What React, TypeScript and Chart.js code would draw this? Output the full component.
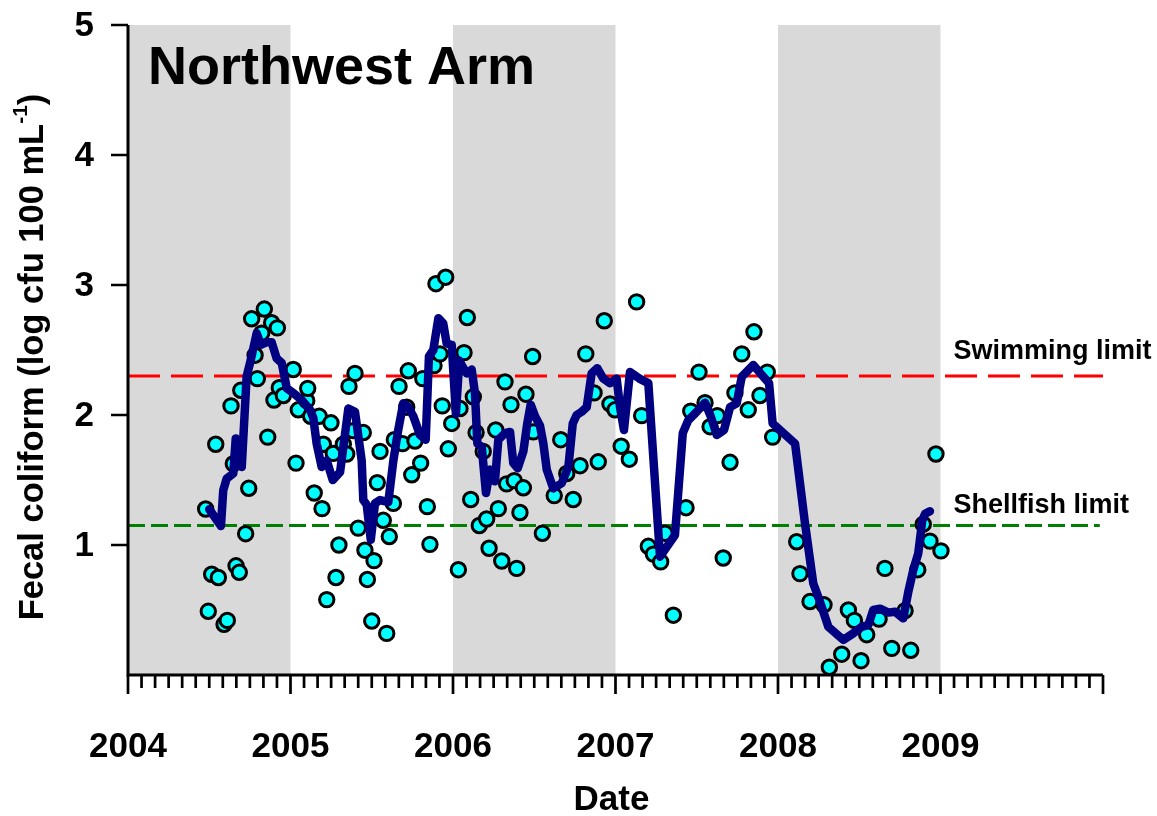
import React, { useEffect, useRef } from "react";
import { Chart, registerables } from "chart.js";

Chart.register(...registerables);

// ---- Data (decimal years, log10 cfu per 100 mL) ----
const sampleYears = [
  2004.478, 2004.494, 2004.515, 2004.540, 2004.556, 2004.591, 2004.611, 2004.634, 2004.648, 2004.665,
  2004.685, 2004.694, 2004.724, 2004.743, 2004.761, 2004.782, 2004.796, 2004.823, 2004.839, 2004.860,
  2004.884, 2004.898, 2004.919, 2004.931, 2004.956, 2005.017, 2005.034, 2005.048, 2005.100, 2005.106,
  2005.124, 2005.146, 2005.177, 2005.194, 2005.202, 2005.223, 2005.249, 2005.263, 2005.280, 2005.298,
  2005.325, 2005.346, 2005.360, 2005.386, 2005.397, 2005.417, 2005.448, 2005.458, 2005.473, 2005.500,
  2005.514, 2005.534, 2005.551, 2005.571, 2005.592, 2005.608, 2005.633, 2005.639, 2005.668, 2005.690,
  2005.715, 2005.725, 2005.746, 2005.766, 2005.801, 2005.814, 2005.842, 2005.858, 2005.883, 2005.895,
  2005.920, 2005.934, 2005.955, 2005.971, 2005.992, 2006.033, 2006.043, 2006.068, 2006.088, 2006.109,
  2006.125, 2006.142, 2006.162, 2006.186, 2006.207, 2006.222, 2006.263, 2006.279, 2006.300, 2006.320,
  2006.330, 2006.357, 2006.377, 2006.392, 2006.412, 2006.433, 2006.449, 2006.490, 2006.494, 2006.550,
  2006.623, 2006.663, 2006.700, 2006.740, 2006.782, 2006.817, 2006.868, 2006.894, 2006.931, 2006.966,
  2006.997, 2007.035, 2007.085, 2007.130, 2007.161, 2007.202, 2007.233, 2007.278, 2007.305, 2007.356,
  2007.434, 2007.463, 2007.514, 2007.551, 2007.582, 2007.626, 2007.663, 2007.705, 2007.735, 2007.777,
  2007.817, 2007.852, 2007.889, 2007.934, 2007.967, 2008.115, 2008.135, 2008.197, 2008.283, 2008.316,
  2008.392, 2008.433, 2008.470, 2008.511, 2008.546, 2008.622, 2008.658, 2008.700, 2008.782, 2008.817,
  2008.860, 2008.894, 2008.935, 2008.972, 2009.003,
];
const sampleLogFC = [
  1.277, 0.49, 0.775, 1.775, 0.75, 0.39, 0.42, 2.07, 1.625, 0.84,
  0.79, 2.19, 1.087, 1.436, 2.74, 2.46, 2.28, 2.63, 2.815, 1.83,
  2.71, 2.115, 2.67, 2.21, 2.15, 2.35, 1.63, 2.04, 2.11, 2.205,
  1.99, 1.40, 1.99, 1.28, 1.775, 0.58, 1.94, 1.705, 0.75, 1.00,
  1.775, 1.70, 2.22, 1.88, 2.32, 1.13, 1.865, 0.96, 0.735, 0.415,
  0.88, 1.48, 1.72, 1.19, 0.32, 1.065, 1.32, 1.81, 2.22, 1.78,
  2.06, 2.34, 1.54, 1.80, 1.63, 2.28, 1.295, 1.005, 2.38, 3.01,
  2.47, 2.07, 3.06, 1.74, 1.935, 0.81, 2.05, 2.48, 2.75, 1.35,
  2.14, 1.865, 1.15, 1.72, 1.20, 0.975, 1.885, 1.28, 0.877, 2.255,
  1.47, 2.08, 1.495, 0.82, 1.25, 1.44, 2.16, 2.45, 1.87, 1.09,
  1.38, 1.81, 1.55, 1.35, 1.61, 2.47, 2.17, 1.64, 2.725, 2.085,
  2.04, 1.76, 1.66, 2.87, 1.995, 0.99, 0.93, 0.87, 1.09, 0.46,
  1.287, 2.03, 2.33, 2.095, 1.91, 1.995, 0.90, 1.636, 2.17, 2.47,
  2.04, 2.64, 2.15, 2.33, 1.83, 1.025, 0.78, 0.565, 0.54, 0.06,
  0.16, 0.50, 0.42, 0.11, 0.31, 0.43, 0.82, 0.205, 0.495, 0.19,
  0.81, 1.16, 1.03, 1.70, 0.955,
];

const meanYears = [
  2004.500, 2004.572, 2004.586, 2004.607, 2004.648, 2004.663, 2004.679, 2004.700, 2004.730, 2004.755,
  2004.792, 2004.817, 2004.854, 2004.884, 2004.915, 2004.946, 2004.977, 2005.017, 2005.069, 2005.120,
  2005.140, 2005.161, 2005.192, 2005.223, 2005.260, 2005.305, 2005.356, 2005.397, 2005.438, 2005.448,
  2005.469, 2005.494, 2005.520, 2005.551, 2005.602, 2005.633, 2005.663, 2005.694, 2005.725, 2005.756,
  2005.797, 2005.832, 2005.852, 2005.879, 2005.910, 2005.940, 2005.961, 2005.992, 2006.018, 2006.039,
  2006.060, 2006.084, 2006.115, 2006.135, 2006.150, 2006.177, 2006.203, 2006.228, 2006.258, 2006.279,
  2006.320, 2006.351, 2006.371, 2006.398, 2006.433, 2006.457, 2006.478, 2006.505, 2006.535, 2006.556,
  2006.577, 2006.617, 2006.669, 2006.710, 2006.737, 2006.761, 2006.792, 2006.823, 2006.853, 2006.888,
  2006.925, 2006.966, 2007.007, 2007.028, 2007.052, 2007.089, 2007.147, 2007.202, 2007.274, 2007.366,
  2007.414, 2007.448, 2007.500, 2007.551, 2007.586, 2007.623, 2007.668, 2007.705, 2007.746, 2007.777,
  2007.848, 2007.910, 2007.945, 2007.967, 2008.105, 2008.166, 2008.197, 2008.217, 2008.258, 2008.310,
  2008.402, 2008.463, 2008.515, 2008.556, 2008.586, 2008.628, 2008.679, 2008.720, 2008.771, 2008.802,
  2008.833, 2008.863, 2008.888, 2008.905, 2008.935,
];
const meanLogFC = [
  1.275, 1.146, 1.42, 1.51, 1.55, 1.82, 1.63, 1.60, 2.295, 2.42,
  2.63, 2.54, 2.56, 2.56, 2.435, 2.40, 2.205, 2.17, 2.115, 2.04,
  1.98, 1.78, 1.60, 1.65, 1.50, 1.56, 2.05, 2.025, 1.65, 1.346,
  1.31, 1.04, 1.32, 1.346, 1.33, 1.65, 1.885, 2.09, 2.06, 1.99,
  1.846, 1.81, 2.45, 2.50, 2.745, 2.705, 2.55, 2.54, 2.01, 2.42,
  2.37, 2.32, 2.35, 2.17, 1.78, 1.755, 1.40, 1.58, 1.49, 1.81,
  1.86, 1.87, 1.63, 1.59, 1.72, 1.935, 2.08, 1.99, 1.92, 1.78,
  1.58, 1.435, 1.475, 1.60, 1.935, 2.00, 2.025, 2.06, 2.32, 2.36,
  2.28, 2.245, 2.28, 2.06, 1.885, 2.33, 2.28, 2.245, 0.91, 1.077,
  1.86, 1.96, 2.025, 2.095, 1.99, 1.846, 1.885, 2.06, 2.09, 2.295,
  2.385, 2.295, 2.245, 1.935, 1.78, 1.167, 0.885, 0.705, 0.565, 0.37,
  0.27, 0.32, 0.37, 0.385, 0.50, 0.51, 0.48, 0.487, 0.436, 0.64,
  0.81, 0.935, 1.19, 1.24, 1.26,
];

const yearTicks = [2004, 2005, 2006, 2007, 2008, 2009];
const yTicks = [1, 2, 3, 4, 5];
const bandStarts = [2004, 2006, 2008];
const bandEnds = [2005, 2007, 2009];
const swimmingLimit = 2.3; // log10(200)
const shellfishLimit = 1.15; // log10(14)
const xMin = 2004;
const xMax = 2010;
const monthsPerYear = 12;

const FONT = '"Liberation Sans", Arial, Helvetica, sans-serif';

const decorPlugin = {
  id: "decor",
  beforeDatasetsDraw(chart: any) {
    const { ctx, chartArea, scales } = chart;
    const x = scales.x;
    ctx.save();
    ctx.fillStyle = "#d9d9d9";
    bandStarts.forEach((s, i) => {
      const x0 = x.getPixelForValue(s);
      const x1 = x.getPixelForValue(bandEnds[i]);
      ctx.fillRect(x0, chartArea.top, x1 - x0, chartArea.bottom - chartArea.top);
    });
    ctx.restore();
  },
  afterDraw(chart: any) {
    const { ctx, chartArea, scales } = chart;
    const x = scales.x;
    const y = scales.y;
    const { left, right, top, bottom } = chartArea;
    ctx.save();
    ctx.strokeStyle = "#000";
    ctx.fillStyle = "#000";
    ctx.lineCap = "butt";

    // axes lines
    ctx.lineWidth = 3;
    ctx.beginPath();
    ctx.moveTo(left, top);
    ctx.lineTo(left, bottom + 1.5);
    ctx.moveTo(left - 1.5, bottom);
    ctx.lineTo(right, bottom);
    ctx.stroke();

    // y ticks
    ctx.lineWidth = 2.7;
    ctx.beginPath();
    yTicks.forEach((v) => {
      const py = y.getPixelForValue(v);
      ctx.moveTo(left - 17, py);
      ctx.lineTo(left, py);
    });
    ctx.stroke();

    // x ticks (monthly minor, yearly major)
    const nMonths = (xMax - xMin) * monthsPerYear;
    ctx.beginPath();
    for (let m = 0; m <= nMonths; m++) {
      const px = x.getPixelForValue(xMin + m / monthsPerYear);
      const len = m % monthsPerYear === 0 ? 19 : 13;
      ctx.moveTo(px, bottom);
      ctx.lineTo(px, bottom + len);
    }
    ctx.stroke();

    // tick labels
    ctx.font = `bold 35px ${FONT}`;
    ctx.textAlign = "right";
    ctx.textBaseline = "middle";
    yTicks.forEach((v) => {
      ctx.fillText(String(v), left - 34, y.getPixelForValue(v) + 1);
    });
    ctx.textAlign = "center";
    yearTicks.forEach((v) => {
      ctx.fillText(String(v), x.getPixelForValue(v), bottom + 72);
    });

    // x title
    ctx.font = `bold 35px ${FONT}`;
    ctx.fillText("Date", (left + right) / 2 - 4, bottom + 125);

    // y title with superscript
    ctx.save();
    ctx.translate(33, 357);
    ctx.rotate(-Math.PI / 2);
    const big = `bold 34.5px ${FONT}`;
    const small = `bold 21px ${FONT}`;
    const main = "Fecal coliform (log cfu 100 mL";
    const sup = "-1";
    const close = ")";
    ctx.font = big;
    const wMain = ctx.measureText(main).width;
    const wClose = ctx.measureText(close).width;
    ctx.font = small;
    const wSup = ctx.measureText(sup).width;
    let cx = -(wMain + wSup + wClose) / 2;
    ctx.textAlign = "left";
    ctx.textBaseline = "middle";
    ctx.font = big;
    ctx.fillText(main, cx, 0);
    cx += wMain;
    ctx.font = small;
    ctx.fillText(sup, cx, -12);
    cx += wSup;
    ctx.font = big;
    ctx.fillText(close, cx, 0);
    ctx.restore();

    // panel title
    ctx.font = `bold 54px ${FONT}`;
    ctx.textAlign = "left";
    ctx.textBaseline = "middle";
    ctx.fillText("Northwest Arm", left + 20, top + 44);

    // limit labels
    ctx.font = `bold 27px ${FONT}`;
    const lx = x.getPixelForValue(2009) + 13;
    ctx.fillText("Swimming limit", lx, y.getPixelForValue(swimmingLimit) - 24);
    ctx.fillText("Shellfish limit", lx, y.getPixelForValue(shellfishLimit) - 20);

    ctx.restore();
  },
};

export default function App() {
  const canvasRef = useRef<HTMLCanvasElement | null>(null);

  useEffect(() => {
    const canvas = canvasRef.current;
    if (!canvas) return;
    const samples = sampleYears.map((xv, i) => ({ x: xv, y: sampleLogFC[i] }));
    const mean = meanYears.map((xv, i) => ({ x: xv, y: meanLogFC[i] }));
    const chart = new Chart(canvas, {
      type: "scatter",
      data: {
        datasets: [
          {
            type: "line",
            label: "Running mean",
            data: mean,
            borderColor: "#000080",
            borderWidth: 8.5,
            pointRadius: 0,
            tension: 0,
            fill: false,
            borderCapStyle: "round",
            borderJoinStyle: "round",
            order: 0,
          } as any,
          {
            type: "scatter",
            label: "Samples",
            data: samples,
            backgroundColor: "#00ffff",
            borderColor: "#000000",
            borderWidth: 3,
            pointRadius: 7.2,
            order: 1,
          } as any,
          {
            type: "line",
            label: "Swimming limit",
            data: [
              { x: xMin, y: swimmingLimit },
              { x: xMax, y: swimmingLimit },
            ],
            borderColor: "#ff0000",
            borderWidth: 3,
            borderDash: [32, 11],
            pointRadius: 0,
            fill: false,
            order: 2,
          } as any,
          {
            type: "line",
            label: "Shellfish limit",
            data: [
              { x: xMin, y: shellfishLimit },
              { x: xMax - 0.02, y: shellfishLimit },
            ],
            borderColor: "#008000",
            borderWidth: 3,
            borderDash: [17, 6],
            pointRadius: 0,
            fill: false,
            order: 2,
          } as any,
        ],
      },
      options: {
        responsive: false,
        animation: false,
        layout: { padding: { left: 128, right: 54, top: 25, bottom: 141 } },
        plugins: {
          legend: { display: false },
          tooltip: { enabled: false },
        },
        scales: {
          x: { type: "linear", min: xMin, max: xMax, display: false },
          y: { type: "linear", min: 0, max: 5, display: false },
        },
      },
      plugins: [decorPlugin],
    });
    return () => chart.destroy();
  }, []);

  return (
    <div style={{ position: "fixed", left: 0, top: 0, width: 1157, height: 816, background: "#fff" }}>
      <canvas ref={canvasRef} width={1157} height={816} style={{ display: "block" }} />
    </div>
  );
}
